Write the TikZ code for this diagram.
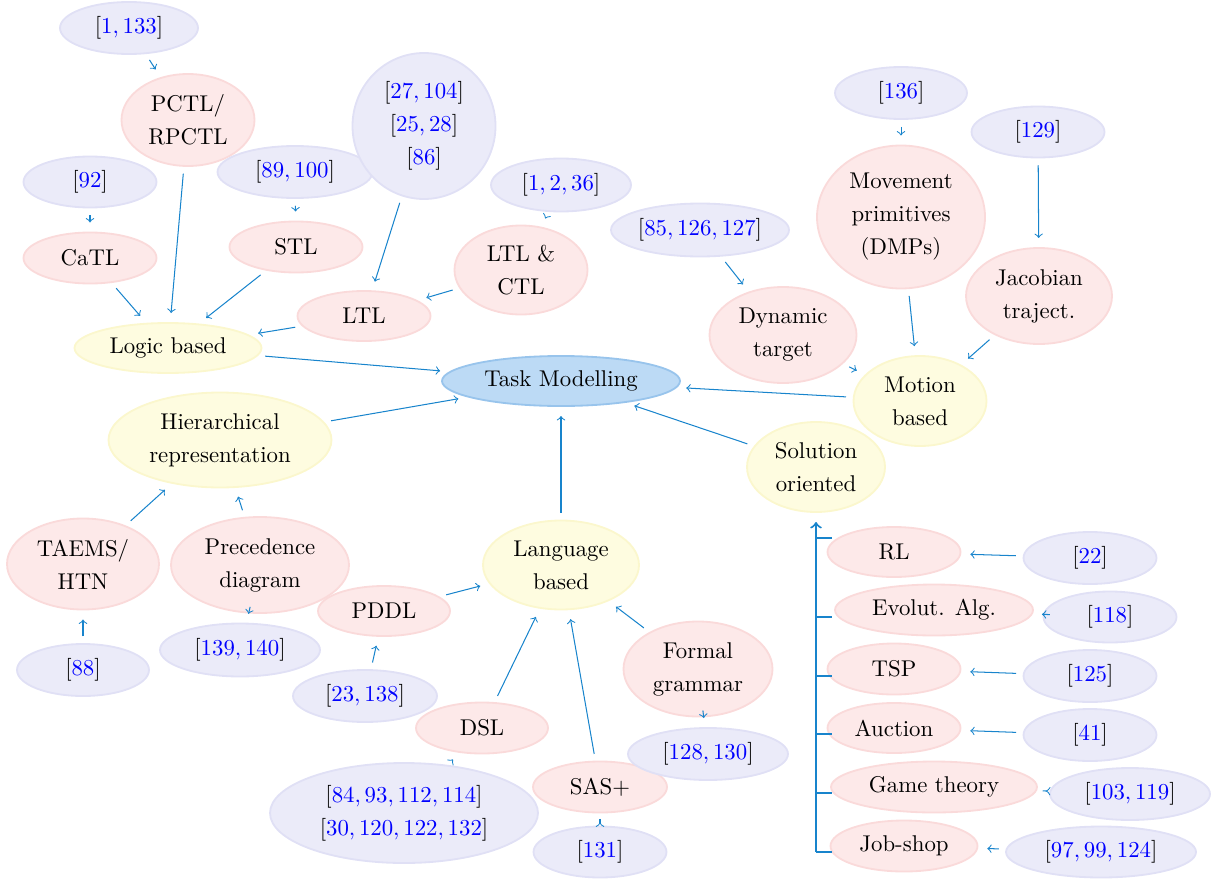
\documentclass[tikz,border=0pt]{standalone}
\usetikzlibrary{shapes.geometric}
\definecolor{arrowc}{RGB}{24,132,204}
\definecolor{pinkfill}{RGB}{253,233,233}
\definecolor{pinkline}{RGB}{250,218,218}
\definecolor{yelfill}{RGB}{254,252,224}
\definecolor{yelline}{RGB}{251,247,205}
\definecolor{lavfill}{RGB}{235,235,249}
\definecolor{lavline}{RGB}{224,224,245}
\definecolor{taskfill}{RGB}{188,218,245}
\definecolor{taskline}{RGB}{152,196,236}
% reference numbers: black brackets, blue numbers
\newcommand\refnums[1]{$[{\color{blue}#1}]$}
\begin{document}
\begin{tikzpicture}[x=0.4386pt,y=-0.4386pt,
  base/.style={ellipse, inner sep=0pt, align=center, line width=0.8pt,
    font=\fontsize{10}{14.5}\selectfont},
  sz/.style 2 args={minimum width=#1*0.4386pt, minimum height=#2*0.4386pt},
  concept/.style={base, fill=pinkfill, draw=pinkline},
  group/.style={base, fill=yelfill, draw=yelline},
  ref/.style={base, fill=lavfill, draw=lavline},
  root/.style={base, fill=taskfill, draw=taskline},
  arr/.style={->, draw=arrowc, line width=0.45pt, shorten <=3pt, shorten >=4pt},
  trunk/.style={->, draw=arrowc, line width=0.9pt, shorten >=4pt},
  tick/.style={draw=arrowc, line width=0.9pt}]
\useasboundingbox (0,0) rectangle (1213,878);

% root and groups
\node[root, sz={238}{50}] (task) at (561,381) {Task Modelling};
\node[group, sz={187}{50}] (logic) at (168,348) {Logic based};
\node[group, sz={223}{95}] (hier) at (220,440) {Hierarchical\\representation};
\node[group, sz={156}{89}] (lang) at (561,565) {Language\\based};
\node[group, sz={133}{90}] (motion) at (920,401) {Motion\\based};
\node[group, sz={138}{90}] (sol) at (816,467) {Solution\\oriented};

% concepts
\node[concept, sz={133}{92}] (pctl) at (188,120) {PCTL/\\RPCTL};
\node[concept, sz={133}{51}] (catl) at (90,258) {CaTL};
\node[concept, sz={133}{51}] (stl) at (296,247) {STL};
\node[concept, sz={133}{50}] (ltl) at (364,316) {LTL};
\node[concept, sz={133}{89}] (ltlctl) at (521,270) {LTL \&\\CTL};
\node[concept, sz={147}{96}] (dyn) at (783,335) {Dynamic\\target};
\node[concept, sz={168}{143}] (dmp) at (901,217) {Movement\\primitives\\(DMPs)};
\node[concept, sz={146}{96}] (jac) at (1039,296) {Jacobian\\traject.};
\node[concept, sz={152}{91}] (taems) at (83,564) {TAEMS/\\HTN};
\node[concept, sz={178}{96}] (prec) at (260,565) {Precedence\\diagram};
\node[concept, sz={132}{50}] (pddl) at (384,611) {PDDL};
\node[concept, sz={132}{51}] (dsl) at (482,728) {DSL};
\node[concept, sz={134}{51}] (sas) at (600,787) {SAS+};
\node[concept, sz={149}{95}] (formal) at (698,669) {Formal\\grammar};
\node[concept, sz={133}{50}] (rl) at (894,552) {RL};
\node[concept, sz={198}{51}] (evo) at (934,610) {Evolut. Alg.};
\node[concept, sz={133}{51}] (tsp) at (894,669) {TSP};
\node[concept, sz={133}{50}] (auc) at (894,728) {Auction};
\node[concept, sz={206}{51}] (game) at (934,787) {Game theory};
\node[concept, sz={147}{51}] (job) at (904,846) {Job-shop};

% references
\node[ref, sz={138}{52}] (r1) at (129,28) {\refnums{1,133}};
\node[ref, sz={133}{51}] (r92) at (90,182) {\refnums{92}};
\node[ref, sz={155}{52}] (r89) at (295,172) {\refnums{89,100}};
\node[ref, sz={143}{146}] (rbig) at (424,126) {\refnums{27,104}\\\refnums{25,28}\\\refnums{86}};
\node[ref, sz={140}{53}] (r1236) at (561,185) {\refnums{1,2,36}};
\node[ref, sz={178}{53}] (r85) at (700,230) {\refnums{85,126,127}};
\node[ref, sz={132}{52}] (r136) at (901,93) {\refnums{136}};
\node[ref, sz={133}{51}] (r129) at (1038,132) {\refnums{129}};
\node[ref, sz={132}{52}] (r88) at (83,670) {\refnums{88}};
\node[ref, sz={160}{53}] (r139) at (240,650) {\refnums{139,140}};
\node[ref, sz={144}{52}] (r23) at (365,696) {\refnums{23,138}};
\node[ref, sz={268}{100}] (r84) at (404,813) {\refnums{84,93,112,114}\\\refnums{30,120,122,132}};
\node[ref, sz={133}{51}] (r131) at (600,852) {\refnums{131}};
\node[ref, sz={160}{52}] (r128) at (708,754) {\refnums{128,130}};
\node[ref, sz={133}{52}] (r22) at (1090,558) {\refnums{22}};
\node[ref, sz={133}{51}] (r118) at (1110,617) {\refnums{118}};
\node[ref, sz={133}{52}] (r125) at (1090,676) {\refnums{125}};
\node[ref, sz={133}{52}] (r41) at (1090,735) {\refnums{41}};
\node[ref, sz={160}{52}] (r103) at (1130,794) {\refnums{103,119}};
\node[ref, sz={190}{51}] (r97) at (1101,852) {\refnums{97,99,124}};

% logic based branch
\draw[arr] (r1) -- (pctl);
\draw[arr] (pctl) -- (logic);
\draw[arr] (r92) -- (catl);
\draw[arr] (catl) -- (logic);
\draw[arr] (r89) -- (stl);
\draw[arr] (stl) -- (logic);
\draw[arr] (rbig) -- (ltl);
\draw[arr] (r1236) -- (ltlctl);
\draw[arr] (ltlctl) -- (ltl);
\draw[arr] (ltl) -- (logic);
\draw[arr] (logic) -- (task);

% hierarchical branch
\draw[arr] (hier) -- (task);
\draw[arr] (taems) -- (hier);
\draw[arr] (prec) -- (hier);
\draw[arr] (prec) -- (r139);
\draw[arr] (r88) -- (taems);

% language based branch
\draw[arr] (r23) -- (pddl);
\draw[arr] (pddl) -- (lang);
\draw[arr] (dsl) -- (lang);
\draw[arr] (sas) -- (lang);
\draw[arr] (formal) -- (lang);
\draw[arr] (r84) -- (dsl);
\draw[arr] (r131) -- (sas);
\draw[arr] (formal) -- (r128);
\draw[arr] (lang) -- (task);

% motion based branch
\draw[arr] (motion) -- (task);
\draw[arr] (dyn) -- (motion);
\draw[arr] (dmp) -- (motion);
\draw[arr] (jac) -- (motion);
\draw[arr] (r85) -- (dyn);
\draw[arr] (r136) -- (dmp);
\draw[arr] (r129) -- (jac);

% solution oriented branch
\draw[arr] (sol) -- (task);
\coordinate (tb) at (816,852);
\draw[trunk] (tb) -- (sol);
\foreach \ty in {538,617,676,734,793,852}
  \draw[tick] (816,\ty) -- ++(16,0);
\draw[arr] (r22) -- (rl);
\draw[arr] (r118) -- (evo);
\draw[arr] (r125) -- (tsp);
\draw[arr] (r41) -- (auc);
\draw[arr] (r103) -- (game);
\draw[arr] (r97) -- (job);
\end{tikzpicture}
\end{document}
